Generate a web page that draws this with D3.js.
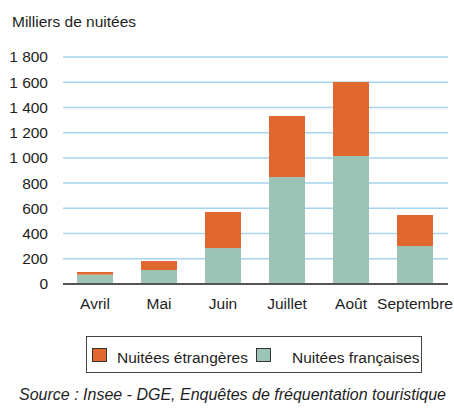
<!DOCTYPE html>
<html>
<head>
<meta charset="utf-8">
<script src="https://cdn.jsdelivr.net/npm/d3@7"></script>
<style>
  body { margin: 0; background: #fff; }
  text { font-family: "Liberation Sans", Arial, sans-serif; fill: #1e1e1e; }
</style>
</head>
<body>
<div id="chart"></div>
<script>
// data (milliers de nuitées)
let months = ["Avril", "Mai", "Juin", "Juillet", "Août", "Septembre"];
let francaises = [74, 111, 285, 848, 1015, 301];
let etrangeres = [21, 71, 286, 484, 587, 246];
let yTicks = [0, 200, 400, 600, 800, 1000, 1200, 1400, 1600, 1800];
let seriesNames = ["Nuitées étrangères", "Nuitées françaises"];
let colors = { fr: "#9cc4b6", et: "#e0672d" };

let svgWidth = 454;
let svgHeight = 408;
let margin = { top: 57, right: 6, bottom: 124, left: 63 };
let width = svgWidth - margin.left - margin.right;
let height = svgHeight - margin.top - margin.bottom;
let fontSize = 15.5;

let svg = d3.select("#chart")
  .append("svg")
  .attr("width", svgWidth)
  .attr("height", svgHeight);

let g = svg.append("g")
  .attr("transform", `translate(${margin.left}, ${margin.top})`);

let x = d3.scaleBand()
  .domain(months)
  .range([0, 384])
  .paddingInner(0.4375)
  .paddingOuter(0.21875);

let y = d3.scaleLinear()
  .domain([0, 1800])
  .range([height, 0]);

// title
svg.append("text")
  .attr("x", 12)
  .attr("y", 27)
  .attr("font-size", fontSize)
  .text("Milliers de nuitées");

// gridlines
g.selectAll("line.grid")
  .data(yTicks.filter(d => d > 0))
  .enter()
  .append("line")
  .attr("x1", 0)
  .attr("x2", width)
  .attr("y1", d => y(d))
  .attr("y2", d => y(d))
  .attr("stroke", "#a6d3ef")
  .attr("stroke-width", 1.5);

// y axis labels
let leftAxis = d3.axisLeft(y)
  .tickValues(yTicks)
  .tickSize(0)
  .tickPadding(15)
  .tickFormat(d => d3.format(",")(d).replace(",", " "));

g.append("g")
  .call(leftAxis)
  .call(a => a.select(".domain").remove())
  .selectAll("text")
  .attr("font-size", fontSize)
  .attr("font-family", "Liberation Sans, Arial, sans-serif")
  .attr("fill", "#1e1e1e");

// stacked bars
let bars = g.selectAll("g.bar")
  .data(months)
  .enter()
  .append("g");

bars.append("rect")
  .attr("x", d => x(d))
  .attr("width", x.bandwidth())
  .attr("y", (d, i) => y(francaises[i]))
  .attr("height", (d, i) => height - y(francaises[i]))
  .attr("fill", colors.fr);

bars.append("rect")
  .attr("x", d => x(d))
  .attr("width", x.bandwidth())
  .attr("y", (d, i) => y(francaises[i] + etrangeres[i]))
  .attr("height", (d, i) => y(francaises[i]) - y(francaises[i] + etrangeres[i]))
  .attr("fill", colors.et);

// baseline
g.append("line")
  .attr("x1", 0)
  .attr("x2", width)
  .attr("y1", y(0))
  .attr("y2", y(0))
  .attr("stroke", "#555")
  .attr("stroke-width", 2);

// x axis labels
let bottomAxis = d3.axisBottom(x).tickSize(0).tickPadding(14);
g.append("g")
  .attr("transform", `translate(0, ${height})`)
  .call(bottomAxis)
  .call(a => a.select(".domain").remove())
  .selectAll("text")
  .attr("font-size", fontSize)
  .attr("font-family", "Liberation Sans, Arial, sans-serif")
  .attr("fill", "#1e1e1e");

// legend
let legend = svg.append("g");
legend.append("rect")
  .attr("x", 86.5)
  .attr("y", 336.5)
  .attr("width", 335)
  .attr("height", 36)
  .attr("fill", "none")
  .attr("stroke", "#444")
  .attr("stroke-width", 1);

let legendItems = [
  { name: seriesNames[0], color: colors.et, sx: 92.5, tx: 117 },
  { name: seriesNames[1], color: colors.fr, sx: 256.5, tx: 292 }
];

legendItems.forEach(function(item) {
  legend.append("rect")
    .attr("x", item.sx)
    .attr("y", 348.5)
    .attr("width", 14)
    .attr("height", 13)
    .attr("fill", item.color)
    .attr("stroke", "#333")
    .attr("stroke-width", 1);
  legend.append("text")
    .attr("x", item.tx)
    .attr("y", 362.5)
    .attr("font-size", fontSize)
    .text(item.name);
});

// source
svg.append("text")
  .attr("x", 19)
  .attr("y", 400)
  .attr("font-size", 16)
  .attr("font-style", "italic")
  .text("Source : Insee - DGE, Enquêtes de fréquentation touristique");
</script>
</body>
</html>
